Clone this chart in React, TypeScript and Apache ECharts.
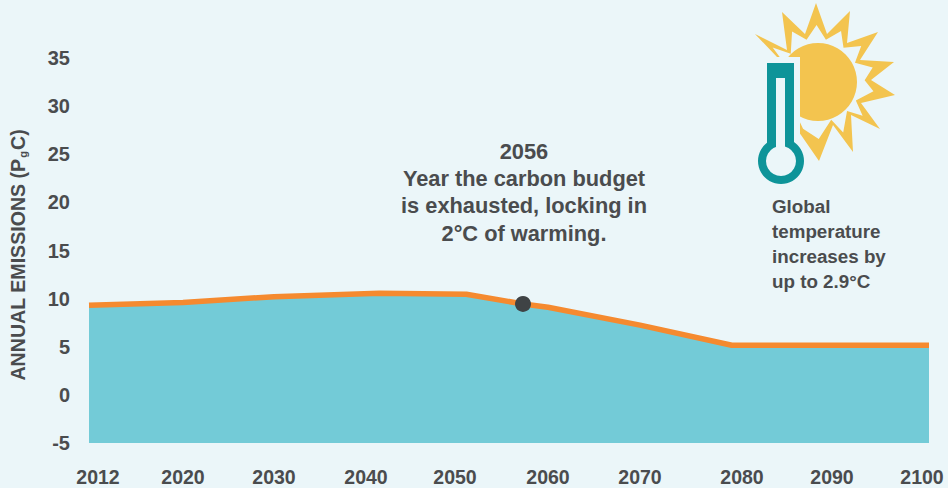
import React, { useEffect, useRef } from "react";
import * as echarts from "echarts";

// Emissions pathway
const pathYears = [2012, 2020, 2030, 2041.5, 2051, 2056, 2060, 2070, 2079, 2100];
const pathValues = [9.3, 9.6, 10.2, 10.55, 10.45, 9.45, 9.1, 7.25, 5.15, 5.15];
const budgetYear = 2056;
const budgetValue = 9.45;

const tickYears = [2012, 2020, 2030, 2040, 2050, 2060, 2070, 2080, 2090, 2100];
const yTicks = [-5, 0, 5, 10, 15, 20, 25, 30, 35];

const noteLines = ["2056", "Year the carbon budget", "is exhausted, locking in", "2°C of warming."];
const tempLines = ["Global", "temperature", "increases by", "up to 2.9°C"];

// The time axis is hand-spaced, so years are placed through these stops (year, axis units).
const AXIS_SPAN = 840;
const axisStops: [number, number][] = [
  [2012, 9], [2020, 94], [2030, 185], [2040, 277], [2050, 366], [2056, 434],
  [2060, 459], [2070, 551], [2080, 653], [2090, 743], [2100, 833],
];
const stopAt = (year: number) => {
  for (let i = 1; i < axisStops.length; i++) {
    const [y0, s0] = axisStops[i - 1];
    const [y1, s1] = axisStops[i];
    if (year <= y1) return s0 + ((year - y0) / (y1 - y0)) * (s1 - s0);
  }
  return AXIS_SPAN;
};
// The filled band bleeds slightly past the first and last tick labels.
const pathX = (year: number) =>
  year === pathYears[0] ? 0 : year === pathYears[pathYears.length - 1] ? AXIS_SPAN : stopAt(year);

const BG = "#ebf6f9";
const INK = "#4a4c4e";
const SUN = "#f3c44f";
const TEAL = "#0e9499";
const FONT = "'Liberation Sans', Arial, sans-serif";

// Sun rays: outer outline, alternating tip and valley.
const sunCentre = [818, 82];
const rays: [number, number][] = [
  [816, 3], [827, 34], [850, 11], [847, 43], [878, 32], [860, 60], [894, 62], [871, 80],
  [895, 95], [861, 103], [880, 129], [851, 115], [853, 152], [833, 125], [819, 161], [801, 135],
  [775, 100], [777, 57], [755, 34], [787, 50], [782, 12], [805, 34],
];
const raysInner = rays.map(([x, y], i) => {
  const k = i % 2 === 0 ? 0.72 : 0.88;
  return [sunCentre[0] + (x - sunCentre[0]) * k, sunCentre[1] + (y - sunCentre[1]) * k];
});

const iconElements: any[] = [
  { type: "polygon", shape: { points: rays }, style: { fill: SUN } },
  { type: "polygon", shape: { points: raysInner }, style: { fill: BG } },
  { type: "circle", shape: { cx: sunCentre[0], cy: sunCentre[1], r: 39 }, style: { fill: SUN } },
  { type: "rect", shape: { x: 755, y: 57, width: 45, height: 83 }, style: { fill: BG } },
  { type: "rect", shape: { x: 767, y: 63, width: 27, height: 90 }, style: { fill: TEAL } },
  { type: "circle", shape: { cx: 781, cy: 161, r: 23 }, style: { fill: TEAL } },
  { type: "rect", shape: { x: 776, y: 78, width: 9, height: 80 }, style: { fill: BG } },
  { type: "circle", shape: { cx: 781, cy: 161, r: 15 }, style: { fill: BG } },
];

const textElements: any[] = [
  ...noteLines.map((text, i) => ({
    type: "text",
    x: 524,
    y: 151 + i * 27.4,
    style: { text, fill: INK, font: `bold 21.8px ${FONT}`, align: "center", verticalAlign: "middle" },
  })),
  ...tempLines.map((text, i) => ({
    type: "text",
    x: 772,
    y: 206 + i * 25,
    style: { text, fill: INK, font: `bold 18.8px ${FONT}`, align: "left", verticalAlign: "middle" },
  })),
  {
    type: "text",
    x: 18,
    y: 255,
    rotation: Math.PI / 2,
    style: {
      text: "ANNUAL EMISSIONS (P{sub|g}C)",
      fill: INK,
      font: `bold 19.6px ${FONT}`,
      align: "center",
      verticalAlign: "middle",
      rich: {
        sub: { font: `bold 11px ${FONT}`, fill: INK, verticalAlign: "bottom", padding: [10, 1, 0, 1] },
      },
    },
  },
];

export default function App() {
  const ref = useRef<HTMLDivElement>(null);

  useEffect(() => {
    document.body.style.margin = "0";
    const chart = echarts.init(ref.current!, undefined, { renderer: "svg" });
    const line = pathYears.map((y, i) => [pathX(y), pathValues[i]]);
    chart.setOption({
      animation: false,
      backgroundColor: BG,
      grid: { left: 89, width: AXIS_SPAN, top: 58, height: 385 },
      xAxis: {
        type: "value",
        min: 0,
        max: AXIS_SPAN,
        axisLine: { show: false },
        axisTick: { show: false },
        splitLine: { show: false },
        axisLabel: {
          customValues: tickYears.map(stopAt),
          formatter: (v: number) => String(tickYears[tickYears.map(stopAt).indexOf(v)]),
          color: INK,
          fontFamily: FONT,
          fontWeight: "bold",
          fontSize: 19.5,
          margin: 24,
          hideOverlap: false,
        },
      },
      yAxis: {
        type: "value",
        min: yTicks[0],
        max: yTicks[yTicks.length - 1],
        interval: 5,
        axisLine: { show: false },
        axisTick: { show: false },
        splitLine: { show: false },
        axisLabel: {
          color: INK,
          fontFamily: FONT,
          fontWeight: "bold",
          fontSize: 20,
          margin: 19,
        },
      },
      series: [
        {
          type: "line",
          data: line,
          showSymbol: false,
          lineStyle: { color: "#f58a2f", width: 5.5 },
          areaStyle: { color: "#73cbd7", origin: "start", opacity: 1 },
          z: 2,
        },
        {
          type: "scatter",
          data: [[pathX(budgetYear), budgetValue]],
          symbolSize: 16,
          itemStyle: { color: "#3f4345", opacity: 1 },
          z: 3,
        },
      ],
      graphic: { elements: [...iconElements, ...textElements] },
    });
    return () => chart.dispose();
  }, []);

  return <div ref={ref} style={{ width: 948, height: 488 }} />;
}
